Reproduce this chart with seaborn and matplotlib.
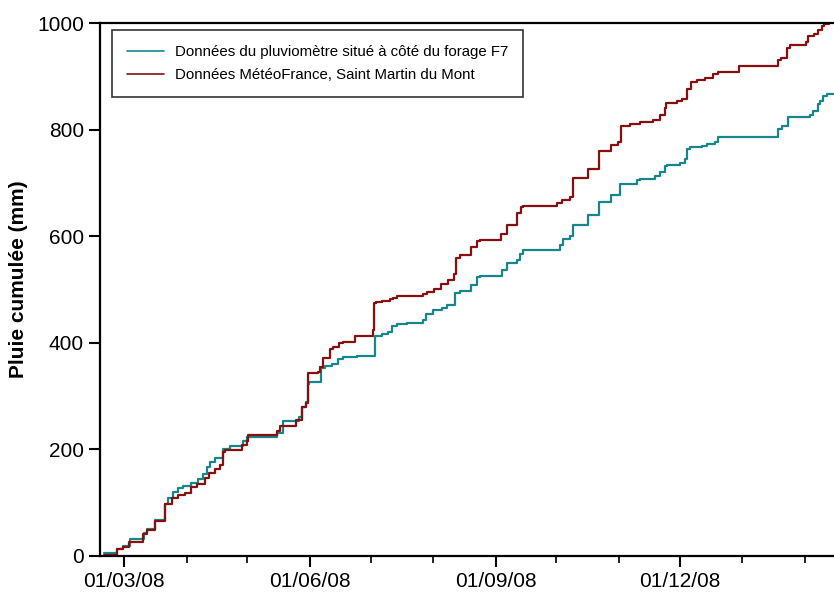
import numpy as np
import pandas as pd
import seaborn as sns
import matplotlib
matplotlib.use("Agg")
import matplotlib.pyplot as plt
import matplotlib.dates as mdates

# jours depuis le 01/03/08 et pluie cumulee (mm)
day_f7 = [-10, -3.5, -0.5, 3, 9.9, 11.4, 15.3, 20.3, 21.8, 24.3, 26.7, 29.2, 33.2, 36.6, 39.1,
          41.1, 42.6, 45, 49, 52.5, 58.9, 60.9, 75.7, 78.7, 86.6, 88.1, 90.2, 91, 91.6, 97.5,
          99.5, 103, 105.9, 108.4, 115.3, 124.3, 127.7, 130.7, 132.7, 135.1, 140, 148, 149.5,
          153, 157.4, 159.9, 163.9, 166.3, 171.8, 174.8, 176, 187.1, 189.6, 194.6, 196, 197.5,
          215.8, 217.3, 220.8, 222.3, 229.7, 235.1, 241.1, 245.5, 254, 255.4, 262.9, 265.3,
          267.8, 268.8, 275.2, 277.7, 278.7, 280.2, 286.1, 288.6, 292.6, 294.1, 300, 323.8,
          325.7, 328.7, 339.6, 341.1, 343.6, 344.6, 346, 348, 352]
pluie_f7 = [5, 12.5, 18, 31, 43, 50, 67, 98, 109, 120, 127, 131, 137, 144, 154,
            167, 177, 184, 200, 206, 216, 223, 230, 253, 261, 280, 289, 323, 327, 352,
            356, 361, 369, 374, 376, 413, 417, 421, 432, 435, 437, 443, 455,
            462, 465, 471, 494, 497, 508, 523, 525, 537, 549, 555, 567, 575,
            583, 594, 600, 622, 640, 665, 677, 698, 705, 707, 713, 721,
            732, 734, 737, 746, 763, 768, 770, 773, 777, 786, 787, 802,
            807, 824, 827, 835, 849, 854, 863, 867, 868]

day_mf = [-10, -3.5, -0.5, 2.5, 9.4, 11.4, 15.3, 20.3, 23.8, 26.7, 30.2, 33.2, 36.1, 40.1, 42.1,
          45, 47.5, 49, 50, 58.4, 60.9, 61.4, 75.7, 77.2, 85.1, 88.1, 90.2, 91, 96, 97, 98.5,
          102, 103.5, 106.4, 108.4, 114.4, 123.3, 123.8, 124.8, 127.7, 131.7, 133.2, 135.1,
          148, 150, 153.5, 156.9, 160.4, 163.4, 164.4, 166.3, 171.8, 174.8, 176, 186.6, 189.6,
          194.6, 196.5, 197.5, 214.4, 216.8, 220.8, 222.3, 229.7, 235.1, 241.1, 244.6, 246,
          250.5, 255.4, 261.9, 265.3, 267.8, 268.3, 273.8, 276.2, 278.7, 280.7, 283.7, 287.6,
          291.6, 294.1, 304.5, 323.8, 325.2, 328.2, 329.7, 337.6, 338.6, 341.6, 343.6, 345.5,
          346.5, 349, 352]
pluie_mf = [2, 12.5, 17, 26, 41, 49, 66, 98, 109, 115, 119, 129, 135, 146, 156,
            163, 171, 195, 199, 208, 216, 227, 234, 244, 255, 280, 288, 343, 346, 355, 372,
            388, 393, 399, 402, 413, 424, 474, 477, 479, 482, 485, 488,
            492, 496, 502, 510, 518, 529, 560, 565, 580, 592, 593, 604, 622,
            643, 655, 657, 662, 669, 673, 710, 727, 760, 771, 777, 807,
            810, 815, 819, 827, 840, 850, 854, 857, 877, 890, 893, 898,
            904, 909, 920, 931, 935, 954, 959, 964, 976, 979, 988, 994,
            999, 1004, 1010]

label_f7 = "Données du pluviomètre situé à côté du forage F7"
label_mf = "Données MétéoFrance, Saint Martin du Mont"

origin = pd.Timestamp("2008-03-01")

def to_frame(days, vals, label):
    return pd.DataFrame({"date": origin + pd.to_timedelta(days, unit="D"),
                         "pluie": vals, "source": label})

df = pd.concat([to_frame(day_f7, pluie_f7, label_f7),
                to_frame(day_mf, pluie_mf, label_mf)], ignore_index=True)

sns.set_style("ticks")
plt.rcParams["font.family"] = ["Liberation Sans", "DejaVu Sans"]
plt.rcParams["text.color"] = "black"
plt.rcParams["axes.labelcolor"] = "black"
plt.rcParams["xtick.color"] = "black"
plt.rcParams["ytick.color"] = "black"

fig = plt.figure(figsize=(8.34, 5.94), dpi=100)
ax = fig.add_axes([0.12, 0.064, 0.88, 0.897])

sns.lineplot(data=df, x="date", y="pluie", hue="source", estimator=None,
             palette={label_f7: "#17868a", label_mf: "#860f0f"},
             drawstyle="steps-post", linewidth=1.6, ax=ax)

ax.set_xlim(origin - pd.Timedelta(days=12), origin + pd.Timedelta(days=351.5))
ax.set_ylim(0, 1000)
ax.set_yticks([0, 200, 400, 600, 800, 1000])
ax.xaxis.set_major_locator(mdates.MonthLocator(bymonth=[3, 6, 9, 12]))
ax.xaxis.set_minor_locator(mdates.MonthLocator())
ax.xaxis.set_major_formatter(mdates.DateFormatter("%d/%m/%y"))

ax.set_xlabel("")
ax.set_ylabel("Pluie cumulée (mm)", fontsize=15, fontweight="bold")
ax.yaxis.set_label_coords(-0.098, 0.52)
ax.tick_params(axis="both", which="major", labelsize=15, length=8, width=1.5,
               color="black", labelcolor="black")
ax.tick_params(axis="x", which="minor", length=5, width=1.2, color="black")

for s in ["left", "bottom", "top"]:
    ax.spines[s].set_linewidth(1.6)
    ax.spines[s].set_color("black")
ax.spines["right"].set_visible(False)

leg = ax.legend(loc="upper left", bbox_to_anchor=(0.016, 0.987), borderaxespad=0,
                fontsize=10.8, frameon=True, fancybox=False, edgecolor="black",
                handlelength=2.5, handletextpad=0.7, borderpad=1.0, labelspacing=0.6)
leg.get_frame().set_linewidth(1.2)
for line in leg.get_lines():
    line.set_linewidth(1.2)
for t in leg.get_texts():
    t.set_color("black")

fig.savefig("out.png", dpi=100)
